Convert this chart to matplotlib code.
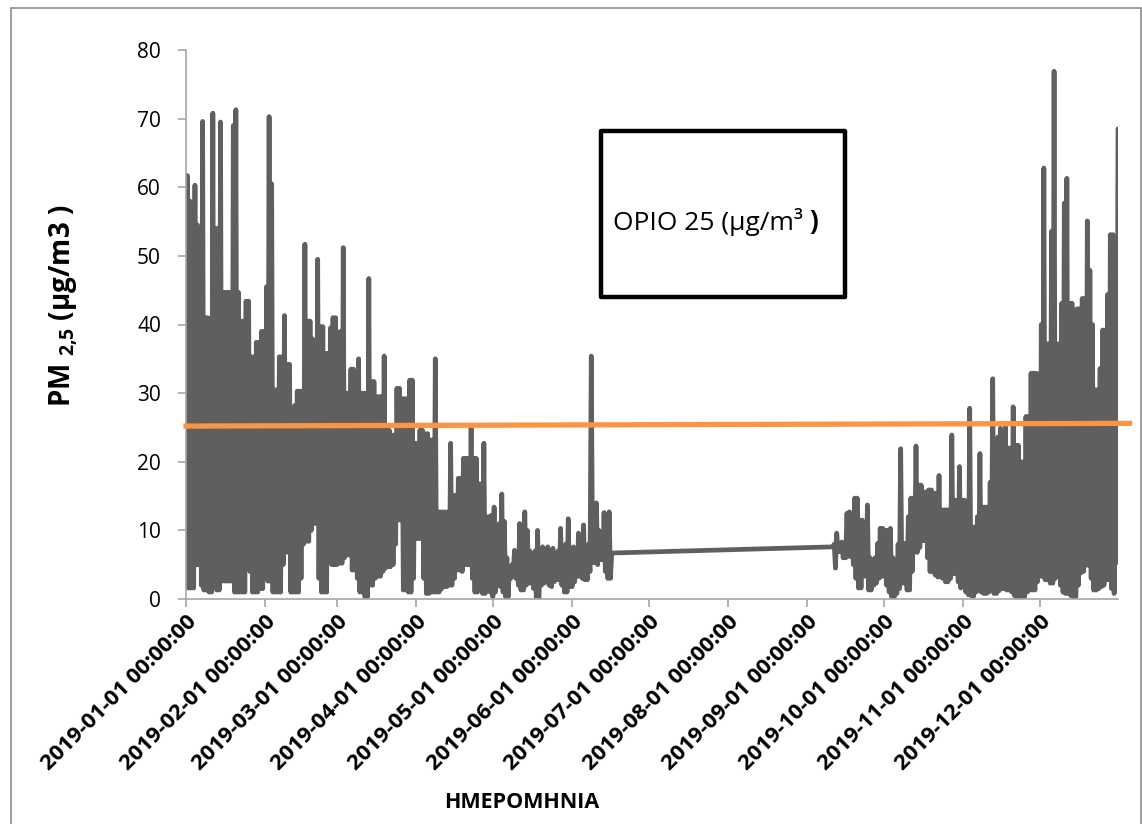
import pandas as pd
import matplotlib
matplotlib.use("Agg")
import matplotlib.pyplot as plt
from matplotlib.patches import Rectangle

plt.rcParams['font.family'] = ['Open Sans', 'DejaVu Sans']
plt.rcParams['mathtext.fontset'] = 'custom'
plt.rcParams['mathtext.rm'] = 'Open Sans'
plt.rcParams['mathtext.bf'] = 'Open Sans:bold'

# daily highs / lows of PM2.5 (µg/m3)
seg1_start = "2019-01-01"
seg1_max = [61.7, 58, 45, 60.3, 54.5, 54, 69.6, 41, 41, 20,
            70.8, 54, 54, 69.5, 44.7, 44.7, 44.7, 44.7, 69, 71.3,
            44.7, 40.5, 40.5, 43.4, 43.4, 35.3, 35.3, 37.4, 37.4, 39,
            39, 45.5, 70.3, 60.5, 30.5, 30.5, 35.3, 35.3, 41.3, 34.2,
            34.2, 26.3, 28.2, 30.3, 30.3, 30.3, 51.7, 40.5, 40.5, 37.9,
            35.8, 49.5, 39.7, 39.7, 35.8, 35.8, 39.5, 41, 41, 38.9,
            39, 51.2, 30, 30, 33.5, 33.5, 30, 35, 30, 30,
            30, 46.7, 31.7, 31.7, 29.5, 29.5, 29.5, 35.4, 24.6, 24.6,
            23.9, 23.9, 30.7, 30.7, 29.2, 29.2, 29.2, 31.9, 31.9, 22.7,
            22.7, 24.6, 24.6, 24.1, 24.1, 23.2, 23.2, 35, 12.7, 12.7,
            12.7, 12.7, 12.7, 22.7, 15.1, 15.1, 17.6, 17.6, 20.5, 20.5,
            20.5, 24.9, 20.5, 20.5, 16.8, 16.8, 22.7, 12, 12, 12.2,
            13.4, 8, 11, 15.3, 11.3, 6, 4.7, 5, 7.1, 6,
            11, 8, 12.7, 10, 7, 6, 7, 10, 6, 7.6,
            6, 7.6, 6, 7.4, 5, 7, 10.3, 7, 8, 11.7,
            6, 7.6, 7, 9.6, 8, 10.8, 6, 8, 35.4, 9,
            14, 10, 9, 12.6, 9, 12.7, 6.7]
seg1_min = [4, 1.6, 1.6, 1.6, 5, 5, 2, 1.3, 1.3, 1,
            1, 3, 1.3, 1.3, 2.6, 2.6, 2.6, 2.6, 2.6, 1,
            1, 1, 1, 1, 5, 4, 1, 1, 1, 1.5,
            1.5, 3, 2.6, 2.6, 1, 1, 1, 1, 5, 6.8,
            6.8, 1, 1, 1, 1, 3, 8, 8.4, 8.4, 10,
            11, 11, 3, 1, 1, 1, 6, 5, 5, 5,
            5.2, 5.2, 6, 6.4, 6.4, 4.2, 4.2, 3, 1, 1,
            0.3, 0.3, 2, 2, 3, 3.3, 3.3, 4, 4.5, 4.7,
            4.7, 5, 8, 11.5, 11.5, 1.3, 1.3, 1, 1, 3,
            8.8, 8.8, 8.8, 3, 0.8, 0.8, 1, 1, 1, 1,
            1.5, 1.8, 1.8, 2, 2, 3, 4.2, 4.2, 4, 5,
            5, 5, 3, 1, 1, 2, 0.8, 0.8, 2, 1,
            0.3, 1, 2, 1.8, 1, 0.3, 0.3, 3, 4.2, 3,
            2, 1.3, 1.3, 2, 2.3, 2.3, 1.5, 0.1, 0.1, 2,
            2.3, 2.5, 2, 1.8, 2.5, 2.8, 2.8, 2, 1, 1,
            1.8, 1.8, 2.5, 3.3, 3.3, 3, 2.8, 2.8, 4, 5.3,
            5.3, 5, 5.7, 5.7, 4, 3, 3]

seg2_start = "2019-09-11"
seg2_max = [8, 9.6, 7, 8.3, 7, 12.5, 12.7, 10, 14.7, 14.7,
            11.5, 11.5, 8, 13.7, 6, 5.7, 6, 8.1, 10.3, 10.3,
            10, 10, 10.3, 6, 4.2, 8, 21.9, 8.1, 8.1, 12,
            14.7, 14.7, 22.3, 16.6, 16.6, 15.6, 15.6, 15.9, 15.9, 15.4,
            15.4, 18, 13, 13, 13, 13, 23.9, 14.4, 14.4, 19.3,
            14.4, 14.4, 10, 27.8, 10.5, 10.5, 12, 21.2, 13.4, 13.4,
            13.4, 17, 32.1, 20, 23.6, 24.9, 22, 25.3, 22, 22,
            28, 22.4, 22.4, 20, 20, 26.6, 26.6, 32.9, 32.9, 32.9,
            32.8, 40, 62.8, 37.2, 37.2, 53.6, 76.9, 37.2, 37.2, 43.1,
            57.7, 61.3, 43.1, 43.1, 37.2, 42.3, 42.3, 43.8, 43.8, 55.1,
            47.9, 40, 30.5, 30.5, 33.6, 39.2, 39.2, 44.4, 53.1, 53.1,
            45, 68.5]
seg2_min = [7.6, 4.5, 6.9, 6.9, 6, 6, 6.2, 6.2, 5, 3,
            1.6, 1.6, 3.3, 3.3, 1.3, 1.3, 2, 2.3, 3, 3.3,
            3.3, 2, 1, 0.3, 0.3, 0.8, 1.5, 2.3, 2.3, 1.3,
            1.3, 4, 6.8, 6.8, 7.5, 8.5, 8.5, 6, 4, 4,
            3.5, 3.2, 3.2, 3, 2.5, 2.5, 3, 3.7, 3.7, 2.5,
            1.6, 1.8, 1, 0.6, 0.5, 0.4, 1, 1.3, 1, 0.8,
            0.8, 1, 1.5, 0.8, 0.8, 1.2, 1.5, 1.5, 1.3, 1.3,
            1, 0.5, 0.1, 0.3, 0.3, 0.3, 1, 1.3, 1.3, 1.3,
            2.5, 3.3, 3.3, 2.8, 2.8, 2.3, 2.3, 3, 3.8, 2,
            1, 0.8, 0.8, 0.5, 0.3, 0.3, 2, 3.8, 4, 4.9,
            4.9, 3, 1.3, 1.3, 1.5, 1.8, 2, 2.8, 2.8, 1.5,
            0.8, 5.3]

# limit line (25 µg/m3)
limit_dates = ["2019-01-01", "2020-01-05"]
limit_vals = [25.2, 25.6]

tick_dates = pd.date_range("2019-01-01", "2019-12-01", freq="MS")
tick_labels = [d.strftime("%Y-%m-%d %H:%M:%S") for d in tick_dates]


def build(start, vmax, vmin):
    days = pd.date_range(start, periods=len(vmax), freq="D")
    t, v = [], []
    for d, lo, hi in zip(days, vmin, vmax):
        t += [d, d + pd.Timedelta(hours=12)]
        v += [lo, hi]
    return t, v


t1, v1 = build(seg1_start, seg1_max, seg1_min)
t2, v2 = build(seg2_start, seg2_max, seg2_min)

W, H = 1142, 824
fig = plt.figure(figsize=(W / 100, H / 100), dpi=100)
ax = fig.add_axes([186 / W, 1 - 599 / H, (1118 - 186) / W, 549 / H])

ax.plot(t1 + t2, v1 + v2, color="#5f5f5f", lw=3.4,
        solid_joinstyle="round", solid_capstyle="round", zorder=2)
ax.plot(pd.to_datetime(limit_dates), limit_vals, color="#f79646", lw=3.8,
        clip_on=False, zorder=3)

ax.set_xlim(pd.Timestamp("2019-01-01"), pd.Timestamp("2019-12-31 12:00"))
ax.set_ylim(0, 80)
ax.set_yticks(range(0, 81, 10))
ax.set_xticks(tick_dates)
ax.set_xticklabels(tick_labels, rotation=45, ha="right", rotation_mode="anchor",
                   fontweight="bold", fontsize=16)
for lbl in ax.get_yticklabels():
    lbl.set_fontsize(15)

for s in ["top", "right"]:
    ax.spines[s].set_visible(False)
for s in ["left", "bottom"]:
    ax.spines[s].set_color("#a6a6a6")
    ax.spines[s].set_linewidth(1.2)
ax.tick_params(axis="both", colors="#a6a6a6", length=6, width=1.2, labelcolor="black")
ax.tick_params(axis="y", pad=12)
ax.tick_params(axis="x", pad=3)

# text box
ax.add_patch(Rectangle((0.445, 0.550), 0.262, 0.302, transform=ax.transAxes,
                       facecolor="white", edgecolor="black", lw=3.2, joinstyle="round",
                       zorder=5))
t_box = ax.text(0.458, 0.687, "OPIO 25 (µg/m³", transform=ax.transAxes,
                fontsize=19, va="center", ha="left", zorder=6)
ax.annotate(" )", xy=(1, 0.5), xycoords=t_box, va="center", ha="left",
            fontsize=19, fontweight="bold", zorder=6)

fig.text(64 / W, 1 - 306 / H, r"PM $_{\mathbf{2{,}5}}$ (µg/m3 )", rotation=90,
         fontsize=20, fontweight="bold", ha="center", va="center")
fig.text(522 / W, 1 - 803 / H, "HMEPOMHNIA", fontsize=15.5, fontweight="bold",
         ha="center", va="center")

fig.patches.append(Rectangle((11 / W, -0.01), (1141 - 11) / W, 1.01 - 8 / H,
                             transform=fig.transFigure, fill=False,
                             edgecolor="#8c8c8c", lw=1.2))

fig.savefig("out.png", dpi=100)
